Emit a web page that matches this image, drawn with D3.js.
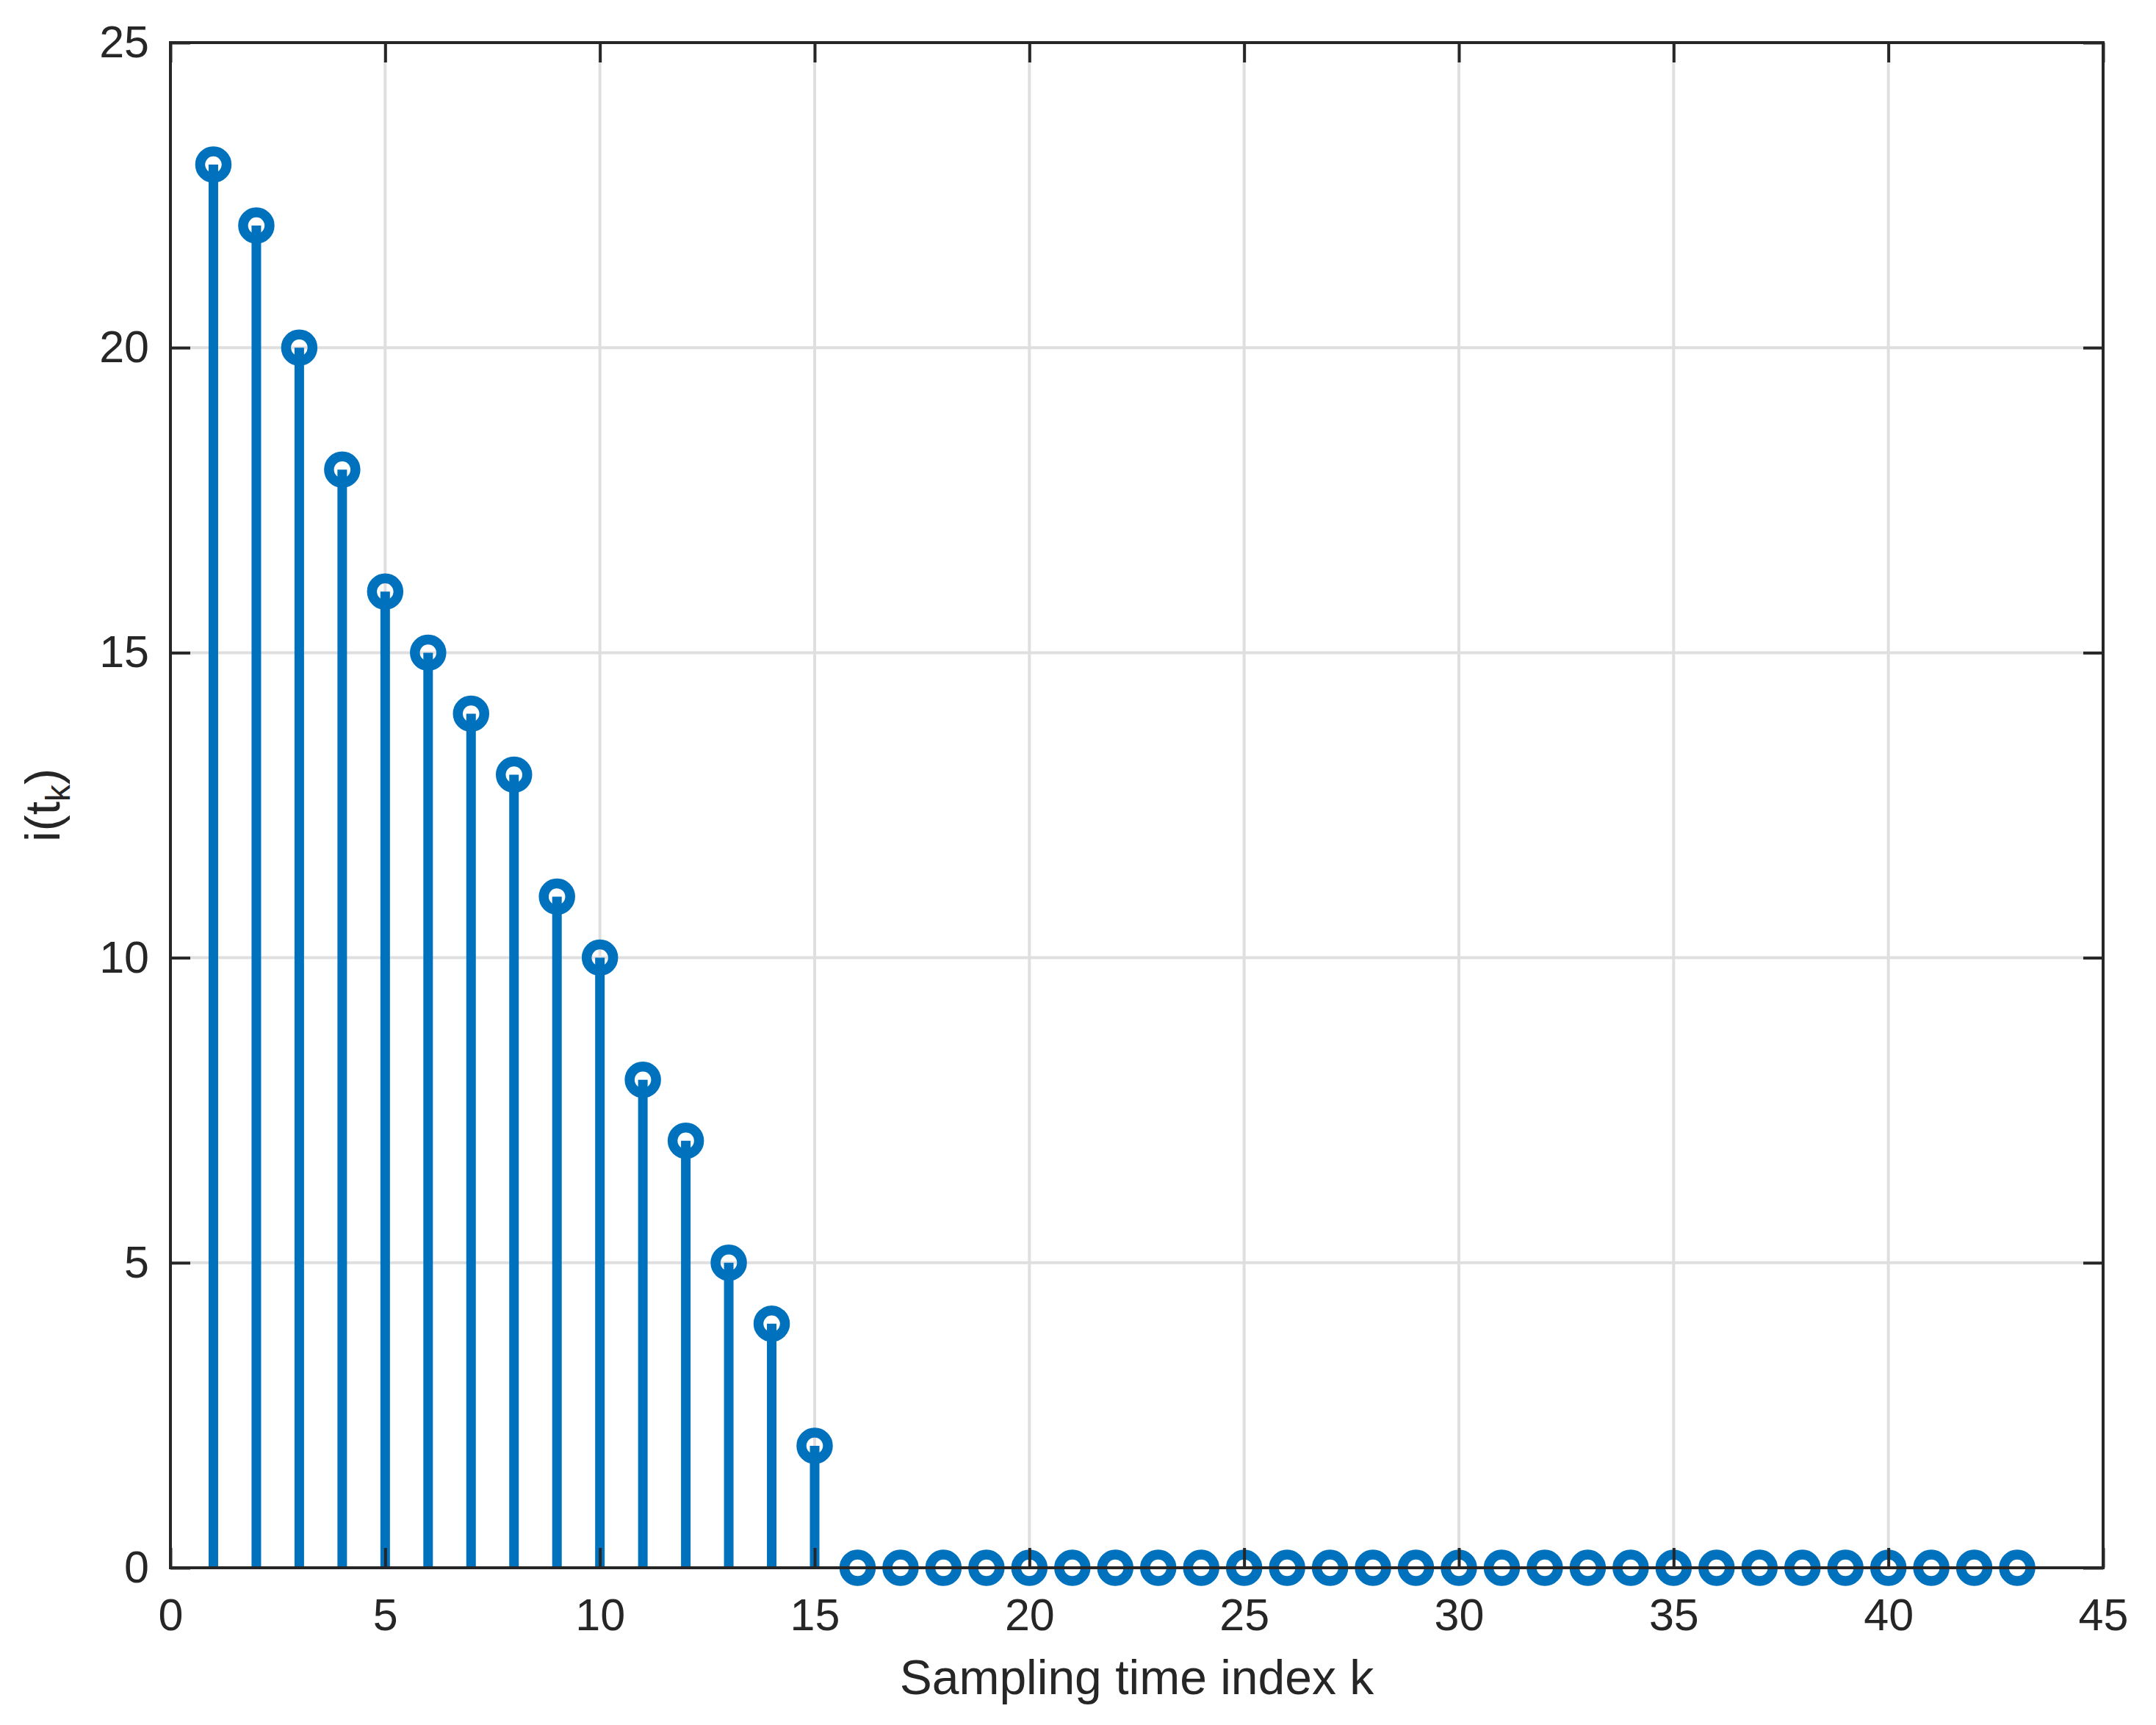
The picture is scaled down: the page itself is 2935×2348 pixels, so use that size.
<!DOCTYPE html>
<html>
<head>
<meta charset="utf-8">
<script src="https://cdn.jsdelivr.net/npm/d3@7"></script>
<style>
    body { margin: 0; background: #fff; }
    text { font-family: "Liberation Sans", Arial, sans-serif; fill: #262626; }
</style>
</head>
<body>
<script>
//data: sampling index k and measured current i(t_k)
var kValues = d3.range(1, 44);
var currentValues = [23, 22, 20, 18, 16, 15, 14, 13, 11, 10, 8, 7, 5, 4, 2,
    0, 0, 0, 0, 0, 0, 0, 0, 0, 0, 0, 0, 0, 0, 0, 0, 0, 0, 0, 0, 0, 0, 0, 0, 0, 0, 0, 0];
var xTicks = [0, 5, 10, 15, 20, 25, 30, 35, 40, 45];
var yTicks = [0, 5, 10, 15, 20, 25];

window.onload = function () {
    //SVG dimension variables
    const w = 2935, h = 2348;
    const margin = { top: 58, right: 72, bottom: 214, left: 232 };
    const blue = "#0072BD", ink = "#262626";

    var data = kValues.map((k, i) => ({ k: k, v: currentValues[i] }));

    var svg = d3.select("body")
        .append("svg")
        .attr("width", w)
        .attr("height", h)
        .attr("class", "container")
        .style("background-color", "#fff");

    //scales
    var x = d3.scaleLinear()
        .domain([0, 45])
        .range([margin.left, w - margin.right]);

    var y = d3.scaleLinear()
        .domain([0, 25])
        .range([h - margin.bottom, margin.top]);

    //grid lines
    var grid = svg.append("g").attr("class", "grid");
    grid.selectAll(".vgrid")
        .data(xTicks.slice(1, -1))
        .enter()
        .append("line")
        .attr("x1", d => x(d)).attr("x2", d => x(d))
        .attr("y1", y(0)).attr("y2", y(25))
        .style("stroke", "#dfdfdf")
        .style("stroke-width", 4);
    grid.selectAll(".hgrid")
        .data(yTicks.slice(1, -1))
        .enter()
        .append("line")
        .attr("x1", x(0)).attr("x2", x(45))
        .attr("y1", d => y(d)).attr("y2", d => y(d))
        .style("stroke", "#dfdfdf")
        .style("stroke-width", 4);

    //stems
    svg.selectAll(".stem")
        .data(data)
        .enter()
        .append("line")
        .attr("class", "stem")
        .attr("x1", d => x(d.k)).attr("x2", d => x(d.k))
        .attr("y1", y(0))
        .attr("y2", d => y(d.v))
        .style("stroke", blue)
        .style("stroke-width", 13);

    //open circle markers
    svg.selectAll(".marker")
        .data(data)
        .enter()
        .append("circle")
        .attr("class", "marker")
        .attr("cx", d => x(d.k))
        .attr("cy", d => y(d.v))
        .attr("r", 18)
        .style("fill", "none")
        .style("stroke", blue)
        .style("stroke-width", 13.5);

    //axes with inward ticks on all four sides
    const tickLen = 27;
    var xBottom = d3.axisBottom(x).tickValues(xTicks).tickSizeInner(-tickLen).tickSizeOuter(0).tickPadding(42);
    var xTop = d3.axisTop(x).tickValues(xTicks).tickSizeInner(-tickLen).tickSizeOuter(0).tickFormat("");
    var yLeft = d3.axisLeft(y).tickValues(yTicks).tickSizeInner(-tickLen).tickSizeOuter(0).tickPadding(29);
    var yRight = d3.axisRight(y).tickValues(yTicks).tickSizeInner(-tickLen).tickSizeOuter(0).tickFormat("");

    var axes = [
        svg.append("g").attr("transform", `translate(0,${y(0)})`).call(xBottom),
        svg.append("g").attr("transform", `translate(0,${y(25)})`).call(xTop),
        svg.append("g").attr("transform", `translate(${x(0)},0)`).call(yLeft),
        svg.append("g").attr("transform", `translate(${x(45)},0)`).call(yRight)
    ];
    axes.forEach(a => {
        a.select(".domain").remove();
        a.selectAll(".tick line").style("stroke", ink).style("stroke-width", 4);
        a.selectAll(".tick text")
            .style("font-size", "61px")
            .style("font-family", "'Liberation Sans', Arial, sans-serif")
            .style("fill", ink);
    });

    //box around the plot area
    svg.append("rect")
        .attr("x", x(0))
        .attr("y", y(25))
        .attr("width", x(45) - x(0))
        .attr("height", y(0) - y(25))
        .style("fill", "none")
        .style("stroke", ink)
        .style("stroke-width", 4);

    //axis labels
    svg.append("text")
        .attr("x", (x(0) + x(45)) / 2)
        .attr("y", 2306)
        .attr("text-anchor", "middle")
        .style("font-size", "66px")
        .text("Sampling time index k");

    var yLabel = svg.append("text")
        .attr("transform", `translate(81,${(y(0) + y(25)) / 2}) rotate(-90)`)
        .attr("text-anchor", "middle")
        .style("font-size", "66px");
    yLabel.append("tspan").text("i(t");
    yLabel.append("tspan").attr("dy", 14).style("font-size", "46px").text("k");
    yLabel.append("tspan").attr("dy", -14).text(")");
}
</script>
</body>
</html>
